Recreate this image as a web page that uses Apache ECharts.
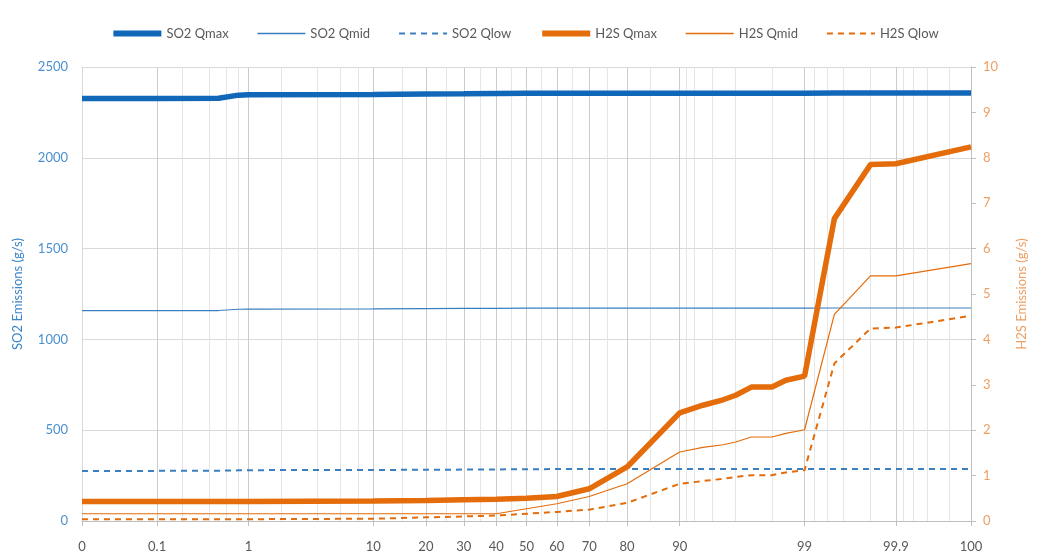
<!DOCTYPE html>
<html>
<head>
<meta charset="utf-8">
<script src="https://cdn.jsdelivr.net/npm/echarts@6/dist/echarts.min.js"></script>
<style>
  html, body { margin: 0; padding: 0; background: #ffffff; }
  #chart { width: 1049px; height: 559px; }
</style>
</head>
<body>
<div id="chart"></div>
<script>
// Exceedance percentile of each sample point (x axis, normal probability scale)
const percentiles = [0.01, 0.1, 0.5, 0.8, 1, 10, 20, 30, 40, 50, 60, 70, 80, 90, 93, 95, 96, 97, 98, 98.5, 99, 99.5, 99.8, 99.9, 99.99];

// SO2 emissions (g/s), left axis
const so2Qmax = [2327, 2327, 2328, 2345, 2347, 2348, 2352, 2353, 2354, 2355, 2355, 2355, 2355, 2355, 2356, 2356, 2356, 2356, 2356, 2356, 2356, 2357, 2357, 2357, 2357];
const so2Qmid = [1158, 1158, 1159, 1166, 1167, 1168, 1170, 1171, 1171, 1172, 1172, 1172, 1172, 1172, 1172, 1172, 1172, 1172, 1172, 1172, 1172, 1173, 1173, 1173, 1173];
const so2Qlow = [276, 276, 277, 279, 280, 281, 282, 283, 284, 285, 286, 286, 286, 287, 287, 287, 287, 287, 287, 287, 287, 287, 287, 287, 287];

// H2S emissions (g/s), right axis
const h2sQmax = [0.43, 0.43, 0.43, 0.43, 0.43, 0.44, 0.45, 0.47, 0.48, 0.50, 0.54, 0.71, 1.19, 2.38, 2.55, 2.67, 2.77, 2.95, 2.95, 3.10, 3.19, 6.66, 7.85, 7.87, 8.24];
const h2sQmid = [0.16, 0.16, 0.16, 0.16, 0.16, 0.16, 0.16, 0.16, 0.16, 0.27, 0.38, 0.54, 0.82, 1.52, 1.62, 1.68, 1.74, 1.85, 1.85, 1.93, 2.01, 4.55, 5.40, 5.40, 5.67];
const h2sQlow = [0.04, 0.04, 0.04, 0.04, 0.04, 0.05, 0.08, 0.10, 0.12, 0.16, 0.20, 0.25, 0.40, 0.82, 0.88, 0.93, 0.97, 1.01, 1.01, 1.07, 1.12, 3.47, 4.24, 4.26, 4.52];

// Labelled x ticks (0 and 100 sit at 0.01 % and 99.99 %)
const majorTickPercents = [0.01, 0.1, 1, 10, 20, 30, 40, 50, 60, 70, 80, 90, 99, 99.9, 99.99];
const majorTickLabels = ['0', '0.1', '1', '10', '20', '30', '40', '50', '60', '70', '80', '90', '99', '99.9', '100'];
// Unlabelled light grid lines
const minorTickPercents = [0.2, 0.4, 0.6, 0.8, 2, 4, 6, 8, 15, 25, 35, 45, 55, 65, 75, 85, 91, 92, 94, 96, 98, 99.2, 99.4, 99.6, 99.8, 99.92, 99.94, 99.96, 99.98];

// Inverse standard normal CDF (Acklam), percent in -> z out
function probit(pct) {
  const p = pct / 100;
  const a = [-3.969683028665376e+01, 2.209460984245205e+02, -2.759285104469687e+02, 1.383577518672690e+02, -3.066479806614716e+01, 2.506628277459239e+00];
  const b = [-5.447609879822406e+01, 1.615858368580409e+02, -1.556989798598866e+02, 6.680131188771972e+01, -1.328068155288572e+01];
  const c = [-7.784894002430293e-03, -3.223964580411365e-01, -2.400758277161838e+00, -2.549732539343734e+00, 4.374664141464968e+00, 2.938163982698783e+00];
  const d = [7.784695709041462e-03, 3.224671290700398e-01, 2.445134137142996e+00, 3.754408661907416e+00];
  const pl = 0.02425, ph = 1 - pl;
  let q, r;
  if (p < pl) {
    q = Math.sqrt(-2 * Math.log(p));
    return (((((c[0]*q+c[1])*q+c[2])*q+c[3])*q+c[4])*q+c[5]) / ((((d[0]*q+d[1])*q+d[2])*q+d[3])*q+1);
  }
  if (p <= ph) {
    q = p - 0.5; r = q * q;
    return (((((a[0]*r+a[1])*r+a[2])*r+a[3])*r+a[4])*r+a[5])*q / (((((b[0]*r+b[1])*r+b[2])*r+b[3])*r+b[4])*r+1);
  }
  q = Math.sqrt(-2 * Math.log(1 - p));
  return -(((((c[0]*q+c[1])*q+c[2])*q+c[3])*q+c[4])*q+c[5]) / ((((d[0]*q+d[1])*q+d[2])*q+d[3])*q+1);
}

const xMin = probit(majorTickPercents[0]);
const xMax = probit(majorTickPercents[majorTickPercents.length - 1]);
const majorZ = majorTickPercents.map(probit);
const minorZ = minorTickPercents.map(probit);
const pairs = vals => percentiles.map((p, i) => [probit(p), vals[i]]);

const FONT = 'Lato, "Open Sans", sans-serif';
const BLUE = '#1268B8';
const BLUE_THIN = '#3A7FC0';
const ORANGE = '#E46C0A';
const DASH = [6, 5];

const chart = echarts.init(document.getElementById('chart'), null, { renderer: 'canvas' });

chart.setOption({
  animation: false,
  backgroundColor: '#ffffff',
  textStyle: { fontFamily: FONT },
  legend: {
    top: 22,
    left: 'center',
    itemWidth: 48,
    itemHeight: 14,
    itemGap: 28,
    itemStyle: { opacity: 0 },
    textStyle: { color: '#595959', fontSize: 13, fontFamily: FONT },
    data: [
      { name: 'SO2 Qmax', lineStyle: { width: 6 } },
      { name: 'SO2 Qmid', lineStyle: { width: 1.5 } },
      { name: 'SO2 Qlow', lineStyle: { width: 2, type: DASH } },
      { name: 'H2S Qmax', lineStyle: { width: 6 } },
      { name: 'H2S Qmid', lineStyle: { width: 1.5 } },
      { name: 'H2S Qlow', lineStyle: { width: 2, type: DASH } }
    ]
  },
  grid: { left: 82, right: 78, top: 67, bottom: 38, containLabel: false },
  xAxis: [
    {
      type: 'value',
      min: xMin,
      max: xMax,
      axisLine: { show: true, onZero: false, lineStyle: { color: '#BFBFBF', width: 1 } },
      axisTick: { show: true, length: 5, lineStyle: { color: '#BFBFBF' }, customValues: majorZ },
      axisLabel: {
        customValues: majorZ,
        color: '#595959',
        fontSize: 13,
        fontFamily: FONT,
        margin: 19,
        formatter: v => {
          const i = majorZ.findIndex(z => Math.abs(z - v) < 1e-6);
          return i >= 0 ? majorTickLabels[i] : '';
        }
      },
      splitLine: { show: true, lineStyle: { color: '#CCCCCC', width: 1 } }
    },
    {
      type: 'value',
      min: xMin,
      max: xMax,
      position: 'bottom',
      axisLine: { show: false, onZero: false },
      axisTick: { show: false, customValues: minorZ },
      axisLabel: { show: false, customValues: minorZ },
      splitLine: { show: true, lineStyle: { color: '#E6E6E6', width: 1 } }
    }
  ],
  yAxis: [
    {
      type: 'value',
      min: 0,
      max: 2500,
      interval: 500,
      name: 'SO2 Emissions (g/s)',
      nameLocation: 'middle',
      nameRotate: 90,
      nameGap: 58,
      nameTextStyle: { color: '#3B86C8', fontSize: 13, fontFamily: FONT },
      axisLine: { show: true, onZero: false, lineStyle: { color: '#D9D9D9' } },
      axisTick: { show: false },
      axisLabel: { color: '#4A90D0', fontSize: 13, fontFamily: FONT, margin: 14, formatter: v => String(v) },
      splitLine: { show: true, lineStyle: { color: '#D9D9D9', width: 1 } }
    },
    {
      type: 'value',
      min: 0,
      max: 10,
      interval: 1,
      position: 'right',
      name: 'H2S Emissions (g/s)',
      nameLocation: 'middle',
      nameRotate: 90,
      nameGap: 44,
      nameTextStyle: { color: '#EE9F63', fontSize: 13, fontFamily: FONT },
      axisLine: { show: true, onZero: false, lineStyle: { color: '#BFBFBF' } },
      axisTick: { show: true, length: 5, lineStyle: { color: '#BFBFBF' } },
      axisLabel: { color: '#EE9F63', fontSize: 13, fontFamily: FONT, margin: 12 },
      splitLine: { show: false }
    }
  ],
  series: [
    { name: 'SO2 Qmax', type: 'line', yAxisIndex: 0, data: pairs(so2Qmax), symbol: 'none',
      lineStyle: { color: BLUE, width: 5.5 }, itemStyle: { color: BLUE } },
    { name: 'SO2 Qmid', type: 'line', yAxisIndex: 0, data: pairs(so2Qmid), symbol: 'none',
      lineStyle: { color: BLUE_THIN, width: 1.2 }, itemStyle: { color: BLUE_THIN } },
    { name: 'SO2 Qlow', type: 'line', yAxisIndex: 0, data: pairs(so2Qlow), symbol: 'none',
      lineStyle: { color: BLUE_THIN, width: 2, type: DASH }, itemStyle: { color: BLUE_THIN } },
    { name: 'H2S Qmax', type: 'line', yAxisIndex: 1, data: pairs(h2sQmax), symbol: 'none',
      lineStyle: { color: ORANGE, width: 5.5 }, itemStyle: { color: ORANGE } },
    { name: 'H2S Qmid', type: 'line', yAxisIndex: 1, data: pairs(h2sQmid), symbol: 'none',
      lineStyle: { color: ORANGE, width: 1.2 }, itemStyle: { color: ORANGE } },
    { name: 'H2S Qlow', type: 'line', yAxisIndex: 1, data: pairs(h2sQlow), symbol: 'none',
      lineStyle: { color: ORANGE, width: 2, type: DASH }, itemStyle: { color: ORANGE } }
  ]
});
</script>
</body>
</html>
